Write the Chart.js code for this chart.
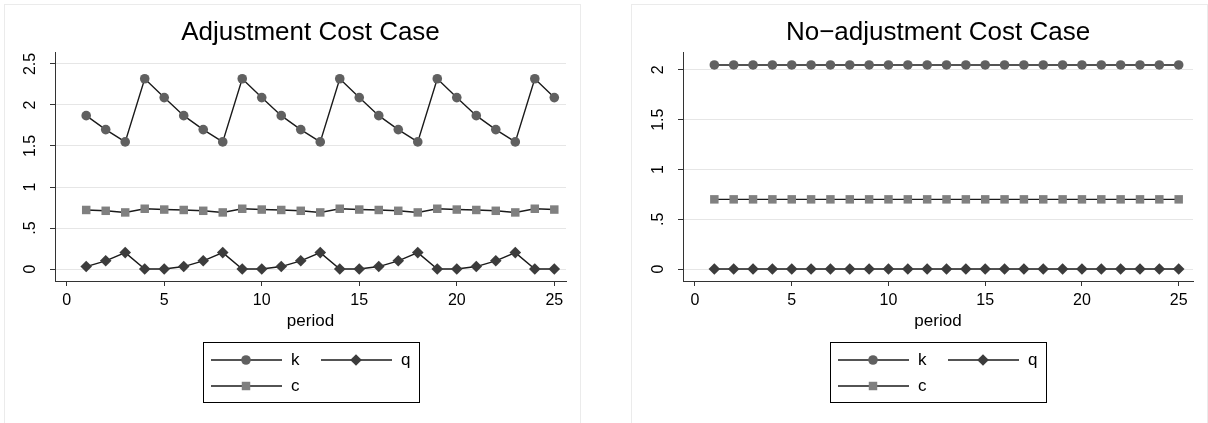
<!DOCTYPE html>
<html>
<head>
<meta charset="utf-8">
<script src="https://cdn.jsdelivr.net/npm/chart.js@4.4.1/dist/chart.umd.min.js"></script>
<style>
    body { margin: 0; background: #fff; width: 1208px; height: 423px; overflow: hidden; position: relative; }
    .painel { position: absolute; top: 4px; width: 577px; height: 430px; border: 1px solid #ebebeb; box-sizing: border-box; }
    #painelAjuste { left: 4px; }
    #painelSemAjuste { left: 631px; }
    canvas { position: absolute; left: 0; top: 0; }
</style>
</head>
<body>
<div class="painel" id="painelAjuste"><canvas id="graficoAjuste" width="575" height="418"></canvas></div>
<div class="painel" id="painelSemAjuste"><canvas id="graficoSemAjuste" width="575" height="418"></canvas></div>

<script>
// Dados
var periodos = [1, 2, 3, 4, 5, 6, 7, 8, 9, 10, 11, 12, 13, 14, 15, 16, 17, 18, 19, 20, 21, 22, 23, 24, 25];

var kAjuste = [1.87, 1.70, 1.55, 2.32, 2.09, 1.87, 1.70, 1.55, 2.32, 2.09, 1.87, 1.70, 1.55, 2.32, 2.09, 1.87, 1.70, 1.55, 2.32, 2.09, 1.87, 1.70, 1.55, 2.32, 2.09];
var qAjuste = [0.03, 0.10, 0.20, 0.00, 0.00, 0.03, 0.10, 0.20, 0.00, 0.00, 0.03, 0.10, 0.20, 0.00, 0.00, 0.03, 0.10, 0.20, 0.00, 0.00, 0.03, 0.10, 0.20, 0.00, 0.00];
var cAjuste = [0.72, 0.71, 0.69, 0.735, 0.725, 0.72, 0.71, 0.69, 0.735, 0.725, 0.72, 0.71, 0.69, 0.735, 0.725, 0.72, 0.71, 0.69, 0.735, 0.725, 0.72, 0.71, 0.69, 0.735, 0.725];

var kSemAjuste = [2.05, 2.05, 2.05, 2.05, 2.05, 2.05, 2.05, 2.05, 2.05, 2.05, 2.05, 2.05, 2.05, 2.05, 2.05, 2.05, 2.05, 2.05, 2.05, 2.05, 2.05, 2.05, 2.05, 2.05, 2.05];
var qSemAjuste = [0, 0, 0, 0, 0, 0, 0, 0, 0, 0, 0, 0, 0, 0, 0, 0, 0, 0, 0, 0, 0, 0, 0, 0, 0];
var cSemAjuste = [0.70, 0.70, 0.70, 0.70, 0.70, 0.70, 0.70, 0.70, 0.70, 0.70, 0.70, 0.70, 0.70, 0.70, 0.70, 0.70, 0.70, 0.70, 0.70, 0.70, 0.70, 0.70, 0.70, 0.70, 0.70];

var ticksX = [0, 5, 10, 15, 20, 25];
var ticksYAjuste = [0, 0.5, 1, 1.5, 2, 2.5];
var rotulosYAjuste = ['0', '.5', '1', '1.5', '2', '2.5'];
var ticksYSemAjuste = [0, 0.5, 1, 1.5, 2];
var rotulosYSemAjuste = ['0', '.5', '1', '1.5', '2'];

var fonte = '"Liberation Sans", Arial, sans-serif';
var corLinha = '#1a1a1a';

function serie(nome, valores, estilo, raio, cor) {
    return {
        label: nome,
        data: periodos.map(function (p, i) { return { x: p, y: valores[i] }; }),
        borderColor: corLinha,
        borderWidth: 1.4,
        pointStyle: estilo,
        pointRadius: raio,
        pointBackgroundColor: cor,
        pointBorderWidth: 0,
        tension: 0,
        fill: false
    };
}

// título, rótulos do eixo y girados, "period" e legenda em caixa
var pluginExtras = {
    id: 'extras',
    afterDraw: function (chart, args, opts) {
        var ctx = chart.ctx;
        var area = chart.chartArea;
        var cx = (area.left + area.right) / 2;
        ctx.save();
        ctx.fillStyle = '#000';
        ctx.textAlign = 'center';
        ctx.textBaseline = 'middle';

        ctx.font = '26px ' + fonte;
        ctx.fillText(opts.titulo, cx, area.top - 19);

        ctx.font = '16px ' + fonte;
        var escalaY = chart.scales.y;
        opts.ticksY.forEach(function (v, i) {
            ctx.save();
            ctx.translate(area.left - 24, escalaY.getPixelForValue(v));
            ctx.rotate(-Math.PI / 2);
            ctx.fillText(opts.rotulosY[i], 0, 0);
            ctx.restore();
        });

        ctx.font = '17px ' + fonte;
        ctx.fillText('period', cx, area.bottom + 40);

        // legenda
        var larg = 216, alt = 60;
        var bx = Math.round(cx - larg / 2), by = area.bottom + 61;
        ctx.strokeStyle = '#000';
        ctx.lineWidth = 1;
        ctx.strokeRect(bx + 0.5, by + 0.5, larg, alt);

        var itens = [
            { ds: 0, x: 8, y: 18 },
            { ds: 1, x: 118, y: 18 },
            { ds: 2, x: 8, y: 44 }
        ];
        ctx.textAlign = 'left';
        itens.forEach(function (it) {
            var ds = chart.data.datasets[it.ds];
            var x0 = bx + it.x, y0 = by + it.y;
            ctx.strokeStyle = corLinha;
            ctx.lineWidth = 1.4;
            ctx.beginPath();
            ctx.moveTo(x0, y0);
            ctx.lineTo(x0 + 71, y0);
            ctx.stroke();
            ctx.fillStyle = ds.pointBackgroundColor;
            Chart.helpers.drawPoint(ctx, { pointStyle: ds.pointStyle, radius: ds.pointRadius, rotation: 0, borderWidth: 0 }, x0 + 35, y0);
            ctx.fillStyle = '#000';
            ctx.fillText(ds.label, x0 + 80, y0);
        });
        ctx.restore();
    }
};

function criarGrafico(canvasId, titulo, k, q, c, xMin, xMax, yMin, yMax, ticksY, rotulosY, largEixoY) {
    var ctx = document.getElementById(canvasId).getContext('2d');
    return new Chart(ctx, {
        type: 'line',
        data: {
            datasets: [
                serie('k', k, 'circle', 4.8, '#606060'),
                serie('q', q, 'rectRot', 5.8, '#3c3c3c'),
                serie('c', c, 'rect', 6, '#808080')
            ]
        },
        options: {
            responsive: false,
            animation: false,
            layout: { padding: { left: 0, top: 47, right: 14, bottom: 0 } },
            plugins: {
                legend: { display: false },
                tooltip: { enabled: false },
                extras: { titulo: titulo, ticksY: ticksY, rotulosY: rotulosY }
            },
            scales: {
                x: {
                    type: 'linear',
                    min: xMin,
                    max: xMax,
                    afterBuildTicks: function (s) { s.ticks = ticksX.map(function (v) { return { value: v }; }); },
                    afterFit: function (s) { s.height = 142; },
                    grid: { drawOnChartArea: false, tickColor: '#333', tickLength: 5 },
                    border: { color: '#333', width: 1 },
                    ticks: { color: '#000', font: { family: fonte, size: 16 }, padding: 5, maxRotation: 0, autoSkip: false }
                },
                y: {
                    min: yMin,
                    max: yMax,
                    afterBuildTicks: function (s) { s.ticks = ticksY.map(function (v) { return { value: v }; }); },
                    afterFit: function (s) { s.width = largEixoY; },
                    grid: { color: '#e6e6e6', lineWidth: 1, tickColor: '#333', tickLength: 5 },
                    border: { color: '#333', width: 1 },
                    ticks: { display: false }
                }
            }
        },
        plugins: [pluginExtras]
    });
}

criarGrafico('graficoAjuste', 'Adjustment Cost Case', kAjuste, qAjuste, cAjuste,
    -0.6, 25.6, -0.146, 2.646, ticksYAjuste, rotulosYAjuste, 50);
criarGrafico('graficoSemAjuste', 'No\u2212adjustment Cost Case', kSemAjuste, qSemAjuste, cSemAjuste,
    -0.62, 25.74, -0.12, 2.18, ticksYSemAjuste, rotulosYSemAjuste, 51);
</script>
</body>
</html>
